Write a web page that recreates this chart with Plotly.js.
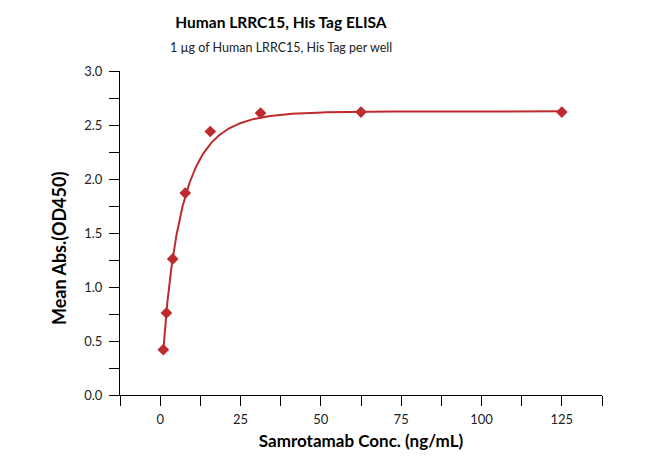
<!DOCTYPE html>
<html><head><meta charset="utf-8">
<script src="https://cdn.plot.ly/plotly-3.0.1.min.js"></script>
<style>html,body{margin:0;padding:0;background:#fff}</style>
</head><body><div id="chart" style="width:661px;height:461px"></div>
<script>
// Measured points
const conc = [0.98, 1.95, 3.9, 7.8, 15.6, 31.25, 62.5, 125];
const absorb = [0.42, 0.76, 1.26, 1.87, 2.44, 2.61, 2.62, 2.62];
// Logistic (5PL) fit parameters: bottom, slope, midpoint, top, asymmetry
const fitParams = [-0.1547, 0.8279, 647.37, 2.6262, 49.584];
const xTickVals = [0, 25, 50, 75, 100, 125];
const yTickVals = [0, 0.5, 1.0, 1.5, 2.0, 2.5, 3.0];

function logistic5(p, x){ return p[3] + (p[0]-p[3]) / Math.pow(1 + Math.pow(x/p[2], p[1]), p[4]); }
const xMin = conc[0], xMax = conc[conc.length-1];
const fitX = [], fitY = [];
for (let i = 0; i <= 300; i++) {
  const x = Math.exp(Math.log(xMin) + (Math.log(xMax) - Math.log(xMin)) * i / 300);
  fitX.push(x); fitY.push(logistic5(fitParams, x));
}

const red = 'rgb(190,42,45)';
Plotly.newPlot('chart', [
  {x: fitX, y: fitY, mode: 'lines', line: {color: red, width: 2}, hoverinfo: 'skip'},
  {x: conc, y: absorb, mode: 'markers', marker: {symbol: 'diamond', size: 9, color: red}}
], {
  width: 661, height: 461, showlegend: false,
  margin: {l: 120, r: 59, t: 71, b: 66},
  paper_bgcolor: '#fff', plot_bgcolor: '#fff',
  font: {family: 'Lato, sans-serif', color: '#222'},
  title: {text: '<b>Human LRRC15, His Tag ELISA</b>', x: 0.425, xanchor: 'center', y: 0.952, yanchor: 'middle', font: {size: 15.5, color: '#000'}},
  xaxis: {range: [-12.5, 137.5], tickvals: xTickVals, ticks: 'outside', ticklen: 10, tickwidth: 1, tickcolor: '#000',
    showline: true, linecolor: '#000', linewidth: 1, showgrid: false, zeroline: false, tickfont: {size: 13}, ticklabelstandoff: 2,
    minor: {dtick: 12.5, tick0: 0, ticks: 'outside', ticklen: 10, tickcolor: '#000', showgrid: false},
    title: {text: '<b>Samrotamab Conc. (ng/mL)</b>', standoff: 9, font: {size: 17, color: '#000'}}},
  yaxis: {range: [0, 3], tickvals: yTickVals, tickformat: '.1f', ticks: 'outside', ticklen: 10, tickwidth: 1, tickcolor: '#000',
    showline: true, linecolor: '#000', linewidth: 1, showgrid: false, zeroline: false, tickfont: {size: 13}, ticklabelstandoff: 4,
    minor: {dtick: 0.25, tick0: 0, ticks: 'outside', ticklen: 10, tickcolor: '#000', showgrid: false}},
  annotations: [
    {text: '1 µg of Human LRRC15, His Tag per well', xref: 'paper', yref: 'paper', x: 0.335, y: 1.074, xanchor: 'center', yanchor: 'middle', showarrow: false, font: {size: 12.5, color: '#222'}},
    {text: '<b>Mean Abs.(OD450)</b>', xref: 'paper', yref: 'paper', x: -0.1266, y: 0.4537, xanchor: 'center', yanchor: 'middle', textangle: -90, showarrow: false, font: {size: 18, color: '#000'}}
  ]
}, {displayModeBar: false});
</script></body></html>
